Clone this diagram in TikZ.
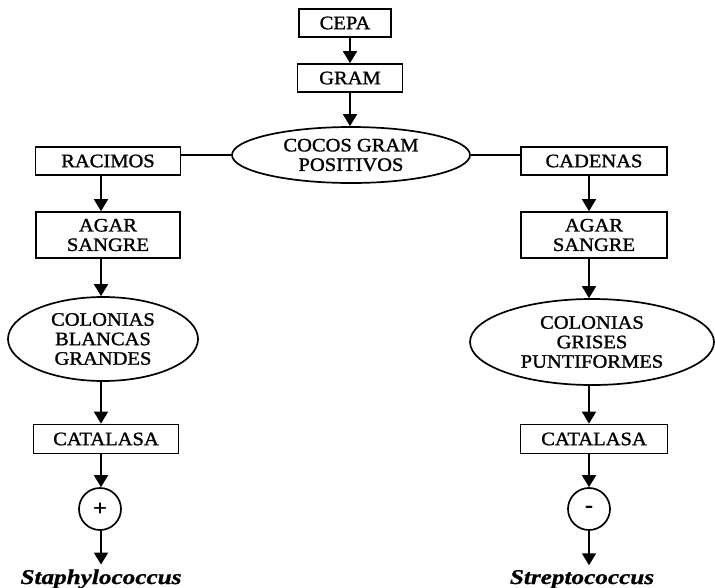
\documentclass[tikz,border=0pt]{standalone}
\usepackage{fontspec}
\setmainfont{Liberation Serif}
\newfontfamily\lblfont{Liberation Serif}[FakeStretch=1.08, FakeBold=1.3]
\newfontfamily\genusfont{Liberation Serif}[FakeStretch=1.2, FakeBold=1]
\usetikzlibrary{arrows.meta,shapes.geometric}

\begin{document}
\begin{tikzpicture}[x=1pt,y=-1pt,
  every node/.style={font=\lblfont\fontsize{19}{19.5}\selectfont,
    align=center, line width=1.7pt, inner sep=0pt},
  box/.style={draw, rectangle, minimum height=28pt},
  tallbox/.style={draw, rectangle, minimum height=46pt},
  oval/.style={draw, ellipse},
  sign/.style={draw, circle, minimum size=42pt, font=\lblfont\bfseries\fontsize{22}{22}\selectfont},
  genus/.style={font=\genusfont\bfseries\itshape\fontsize{21}{21}\selectfont, anchor=base},
  link/.style={line width=1.7pt},
  flow/.style={line width=1.7pt, -{Triangle[width=14pt,length=12pt]}}]

\useasboundingbox (0,0) rectangle (715,587);

% centre column
\node[box, minimum width=92pt]  (cepa) at (345,23) {CEPA};
\node[box, minimum width=105pt] (gram) at (350,78) {GRAM};
\node[oval, minimum width=238pt, minimum height=56pt] (cocos) at (351,155) {COCOS GRAM\\POSITIVOS};

% left branch
\node[box, minimum width=145pt] (racimos) at (108,161) {RACIMOS};
\node[tallbox, minimum width=144pt] (agarL) at (108,235) {AGAR\\SANGRE};
\node[oval, minimum width=190pt, minimum height=84pt] (colL) at (103,339) {COLONIAS\\BLANCAS\\GRANDES};
\node[box, minimum width=145pt, minimum height=29pt] (catL) at (106,439) {CATALASA};
\node[sign] (plus) at (100,509) {+};
\node[genus] (staph) at (101,584) {Staphylococcus};

% right branch
\node[box, minimum width=146pt] (cadenas) at (594,161) {CADENAS};
\node[tallbox, minimum width=146pt] (agarR) at (594,235) {AGAR\\SANGRE};
\node[oval, minimum width=244pt, minimum height=86pt] (colR) at (592,342) {COLONIAS\\GRISES\\PUNTIFORMES};
\node[box, minimum width=147pt, minimum height=29pt] (catR) at (594,439) {CATALASA};
\node[sign] (minus) at (589,509) {-};
\node[genus] (strep) at (582,584) {Streptococcus};

% arrow columns
\coordinate (axC) at (350,0);
\coordinate (axL) at (101,0);
\coordinate (axR) at (589,0);

% centre connectors
\draw[flow] (cepa.south -| axC) -- (gram.north -| axC);
\draw[flow] (gram.south -| axC) -- (cocos.north -| axC);
\draw[link] (cocos.west) -- (cocos.west -| racimos.east);
\draw[link] (cocos.east) -- (cocos.east -| cadenas.west);

% left connectors
\draw[flow] (racimos.south -| axL) -- (agarL.north -| axL);
\draw[flow] (agarL.south -| axL) -- (colL.north -| axL);
\draw[flow] (colL.south -| axL) -- (catL.north -| axL);
\draw[flow] (catL.south -| axL) -- (plus.north -| axL);
\draw[flow, shorten >=4pt] (plus.south -| axL) -- (staph.north -| axL);

% right connectors
\draw[flow] (cadenas.south -| axR) -- (agarR.north -| axR);
\draw[flow] (agarR.south -| axR) -- (colR.north -| axR);
\draw[flow] (colR.south -| axR) -- (catR.north -| axR);
\draw[flow] (catR.south -| axR) -- (minus.north -| axR);
\draw[flow, shorten >=4pt] (minus.south -| axR) -- (strep.north -| axR);
\end{tikzpicture}
\end{document}
